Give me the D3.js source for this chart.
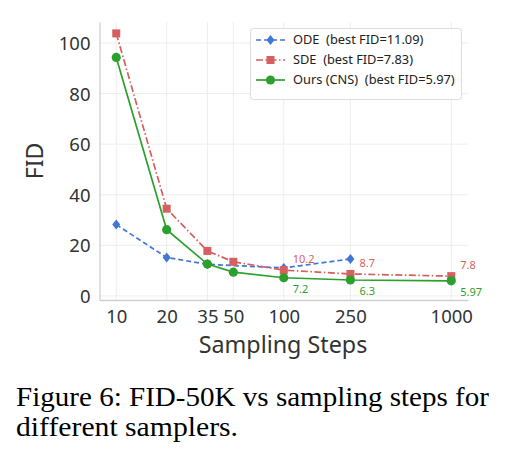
<!DOCTYPE html>
<html><head><meta charset="utf-8">
<script src="https://cdn.jsdelivr.net/npm/d3@7"></script>
<style>
html,body{margin:0;padding:0;background:#fff;}
svg{display:block;}
</style></head>
<body>
<svg id="chart" width="507" height="467"></svg>
<script>
const xTicks = [10, 20, 35, 50, 100, 250, 1000];
const yTicks = [0, 20, 40, 60, 80, 100];
const odeSteps = [10, 20, 35, 100, 250];
const odeFID = [28.2, 15.2, 12.5, 11.09, 14.6];
const sdeSteps = [10, 20, 35, 50, 100, 250, 1000];
const sdeFID = [103.8, 34.5, 17.8, 13.5, 10.2, 8.7, 7.83];
const oursSteps = [10, 20, 35, 50, 100, 250, 1000];
const oursFID = [94.3, 26.2, 12.6, 9.4, 7.2, 6.3, 5.97];
const sdeLabels = [[100, 10.2, "10.2"], [250, 8.7, "8.7"], [1000, 7.83, "7.8"]];
const oursLabels = [[100, 7.2, "7.2"], [250, 6.3, "6.3"], [1000, 5.97, "5.97"]];
const legendNames = ["ODE\u00a0\u00a0(best FID=11.09)", "SDE\u00a0\u00a0(best FID=7.83)", "Ours (CNS)\u00a0\u00a0(best FID=5.97)"];

const svg = d3.select("#chart");
const font = "'Noto Sans', sans-serif";
const x = d3.scaleLog().domain([Math.pow(10, 0.9), Math.pow(10, 3.1)]).range([99.5, 468]);
const y = d3.scaleLinear().domain([-1.6, 108.3]).range([300, 22]);

const colors = {ode: "#4175d6", sde: "#d65f5f", ours: "#2ca02c"};

// grid
const g = svg.append("g");
g.selectAll(".vg").data(xTicks).join("line")
  .attr("x1", d => x(d)).attr("x2", d => x(d)).attr("y1", 22).attr("y2", 300)
  .attr("stroke", "#ededed").attr("stroke-width", 1);
g.selectAll(".hg").data(yTicks).join("line")
  .attr("x1", 99.5).attr("x2", 468).attr("y1", d => y(d)).attr("y2", d => y(d))
  .attr("stroke", "#ededed").attr("stroke-width", 1);

// axes
const xAxis = d3.axisBottom(x).tickValues(xTicks).tickFormat(d3.format("d")).tickSize(0).tickPadding(10);
const yAxis = d3.axisLeft(y).tickValues(yTicks).tickFormat(d3.format("d")).tickSize(0).tickPadding(9);
const gx = svg.append("g").attr("transform", "translate(0,300)").call(xAxis);
const gy = svg.append("g").attr("transform", "translate(99.5,0)").call(yAxis);
[gx, gy].forEach(a => {
  a.select(".domain").attr("stroke", "#cfcfcf").attr("stroke-width", 1.3);
  a.selectAll("text").attr("font-family", font).attr("font-size", 18.5).attr("fill", "#333");
});
gy.selectAll("text").attr("dy", "0.35em");

svg.append("text").attr("x", 283).attr("y", 353).attr("text-anchor", "middle")
  .attr("font-family", font).attr("font-size", 23.3).attr("fill", "#333").text("Sampling Steps");
svg.append("text").attr("transform", "translate(43,161) rotate(-90)").attr("text-anchor", "middle")
  .attr("font-family", font).attr("font-size", 23).attr("fill", "#333").text("FID");

const line = d3.line().x(d => x(d[0])).y(d => y(d[1]));

function drawSeries(steps, vals, color, dash, marker) {
  const pts = steps.map((s, i) => [s, vals[i]]);
  svg.append("path").datum(pts).attr("d", line).attr("fill", "none")
    .attr("stroke", color).attr("stroke-width", 1.7).attr("stroke-dasharray", dash);
  drawMarkers(svg, pts.map(p => [x(p[0]), y(p[1])]), color, marker);
}
function drawMarkers(sel, xy, color, marker) {
  xy.forEach(([px, py]) => {
    if (marker === "diamond") {
      sel.append("path").attr("d", `M${px},${py-5} L${px+4},${py} L${px},${py+5} L${px-4},${py} Z`).attr("fill", color);
    } else if (marker === "square") {
      sel.append("rect").attr("x", px-4).attr("y", py-4).attr("width", 8).attr("height", 8).attr("fill", color);
    } else {
      sel.append("circle").attr("cx", px).attr("cy", py).attr("r", 4.6).attr("fill", color);
    }
  });
}

drawSeries(odeSteps, odeFID, colors.ode, "5,3", "diamond");
drawSeries(sdeSteps, sdeFID, colors.sde, "7,2.5,1.5,2.5", "square");
drawSeries(oursSteps, oursFID, colors.ours, null, "circle");

// value labels
svg.selectAll(".sl").data(sdeLabels).join("text")
  .attr("x", d => x(d[0]) + 9).attr("y", d => y(d[1]) - 11).attr("dy", "0.35em")
  .attr("font-family", font).attr("font-size", 11).attr("fill", colors.sde).text(d => d[2]);
svg.selectAll(".ol").data(oursLabels).join("text")
  .attr("x", d => x(d[0]) + 9).attr("y", d => y(d[1]) + 11).attr("dy", "0.35em")
  .attr("font-family", font).attr("font-size", 11).attr("fill", colors.ours).text(d => d[2]);

// legend
const lg = svg.append("g");
lg.append("rect").attr("x", 250.5).attr("y", 28.5).attr("width", 211).attr("height", 71).attr("rx", 3)
  .attr("fill", "#fff").attr("fill-opacity", 0.85).attr("stroke", "#dddddd");
const legendItems = [
  [colors.ode, "5,3", "diamond"],
  [colors.sde, "7,2.5,1.5,2.5", "square"],
  [colors.ours, null, "circle"]
];
legendItems.forEach((it, i) => {
  const ly = 40 + i * 20;
  lg.append("line").attr("x1", 256).attr("x2", 285).attr("y1", ly).attr("y2", ly)
    .attr("stroke", it[0]).attr("stroke-width", 1.7).attr("stroke-dasharray", it[1]);
  drawMarkers(lg, [[270.5, ly]], it[0], it[2]);
  lg.append("text").attr("x", 293).attr("y", ly).attr("dy", "0.35em")
    .attr("font-family", font).attr("font-size", 12.8).attr("fill", "#222").text(legendNames[i]);
});

// caption
const cap = svg.append("g").attr("font-family", "'Liberation Serif', 'Times New Roman', serif").attr("font-size", 27).attr("fill", "#000");
cap.append("text").attr("x", 16).attr("y", 406).attr("textLength", 473).attr("lengthAdjust", "spacingAndGlyphs")
  .text("Figure 6: FID-50K vs sampling steps for");
cap.append("text").attr("x", 16).attr("y", 436).attr("textLength", 222).attr("lengthAdjust", "spacingAndGlyphs")
  .text("different samplers.");
</script>
</body></html>
